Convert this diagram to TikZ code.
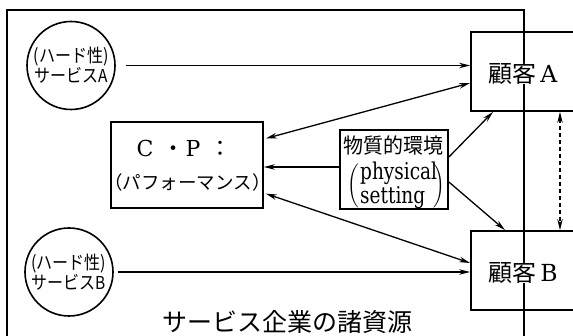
\documentclass[tikz,border=0pt]{standalone}
\usepackage{graphicx}
\usepackage{fontspec}
\setmainfont{DejaVu Serif}
\newfontfamily\cjk{Noto Sans CJK JP}
\newcommand{\talltxt}[2][1.15]{\scalebox{1}[#1]{#2}}
\usetikzlibrary{arrows.meta}
\begin{document}
\begin{tikzpicture}[x=1pt,y=-1pt,
  tip/.tip={Stealth[length=11pt,width=5.5pt]},
  arr/.style={line width=1.3pt,-tip},
  darr/.style={line width=1.3pt,tip-tip},
  frame/.style={line width=1.5pt},
  box/.style={draw,line width=1.8pt,rectangle,inner sep=0pt},
  res/.style={draw,line width=1.6pt,circle,minimum size=88pt,inner sep=0pt,align=center,font=\cjk\fontsize{16}{20}\selectfont},
  cust/.style={fill=white,inner sep=0pt,font=\fontsize{23.5}{25}\selectfont},
  txt/.style={inner sep=0pt},
  ]
\useasboundingbox (0,0) rectangle (573,336);
\clip (0,0) rectangle (573,336);
% frame of the service firm's resources
\coordinate (ftl) at (7,10);
\coordinate (ftr) at (524,10);
\coordinate (fbl) at (7,350);
\coordinate (fbr) at (524,350);
\draw[frame] (fbl) -- (ftl) -- (ftr) -- (fbr);
% resource circles
\node[res] (circA) at (71,65.5) {\talltxt{(ハード性)}\\\talltxt{サービス{\fontsize{15.5}{19}\selectfont A}}};
\node[res] (circB) at (69,272) {\talltxt{(ハード性)}\\\talltxt{サービス{\fontsize{15.5}{19}\selectfont B}}};
% contact personnel box
\node[box,minimum width=152pt,minimum height=86pt] (cp) at (187,165) {};
\node[txt,font=\fontsize{22}{22}\selectfont] (cpt1) at (184,148)
  {C\hspace{9pt}{\cjk ・}\hspace{1pt}P\hspace{9pt}{\cjk ：}};
\node[txt,font=\cjk\fontsize{18.5}{20}\selectfont] (cpt2) at (187.5,182) {（パフォーマンス）};
% physical setting box
\node[box,minimum width=108pt,minimum height=79pt] (phys) at (394,169.5) {};
\node[txt,font=\cjk\fontsize{20}{20}\selectfont] (physjp) at (393.5,146) {\talltxt[1.05]{物質的環境}};
\node[txt,anchor=base west,font=\fontsize{18.5}{18.5}\selectfont] (physen1) at (360,180) {\talltxt[1.25]{physical}};
\node[txt,anchor=base west,font=\fontsize{18.5}{18.5}\selectfont] (physen2) at (360,204) {\talltxt[1.25]{setting}};
\node[txt] (lpar) at (353,186) {\resizebox*{!}{44pt}{$\Bigg($}};
\node[txt] (rpar) at (439.5,186) {\resizebox*{!}{44pt}{$\Bigg)$}};
% customers
\node[box,minimum width=119pt,minimum height=79pt] (custA) at (530.5,71.5) {};
\node[box,minimum width=119pt,minimum height=79pt] (custB) at (530.5,270.5) {};
\node[cust] (custAt) at (523,73) {{\cjk\fontsize{24}{25}\selectfont 顧客}\,A};
\node[cust] (custBt) at (523,272) {{\cjk\fontsize{24}{25}\selectfont 顧客}\,B};
\node[font=\cjk\fontsize{25}{25}\selectfont] (reslabel) at (287,322) {サービス企業の諸資源};
% connectors
\draw[arr] ([xshift=10pt]circA.east) -- (custA.west |- circA.east);
\draw[arr] ([xshift=4pt]circB.east) -- (custB.west |- circB.east);
\draw[arr] (phys.west |- 0,167) -- (cp.east |- 0,167);
\draw[darr,shorten <=2pt] (cp.east |- 0,139) -- (custA.west |- 0,83);
\draw[darr,shorten <=2pt] (cp.east |- 0,193) -- (custB.west |- 0,263);
\draw[arr] (phys.east |- 0,157) -- (custA.south -| 493,0);
\draw[arr] (phys.east |- 0,182) -- (custB.north -| 505,0);
\draw[darr,dash pattern=on 4pt off 3pt] (custA.south -| 560,0) -- (custB.north -| 560,0);
\end{tikzpicture}
\end{document}
